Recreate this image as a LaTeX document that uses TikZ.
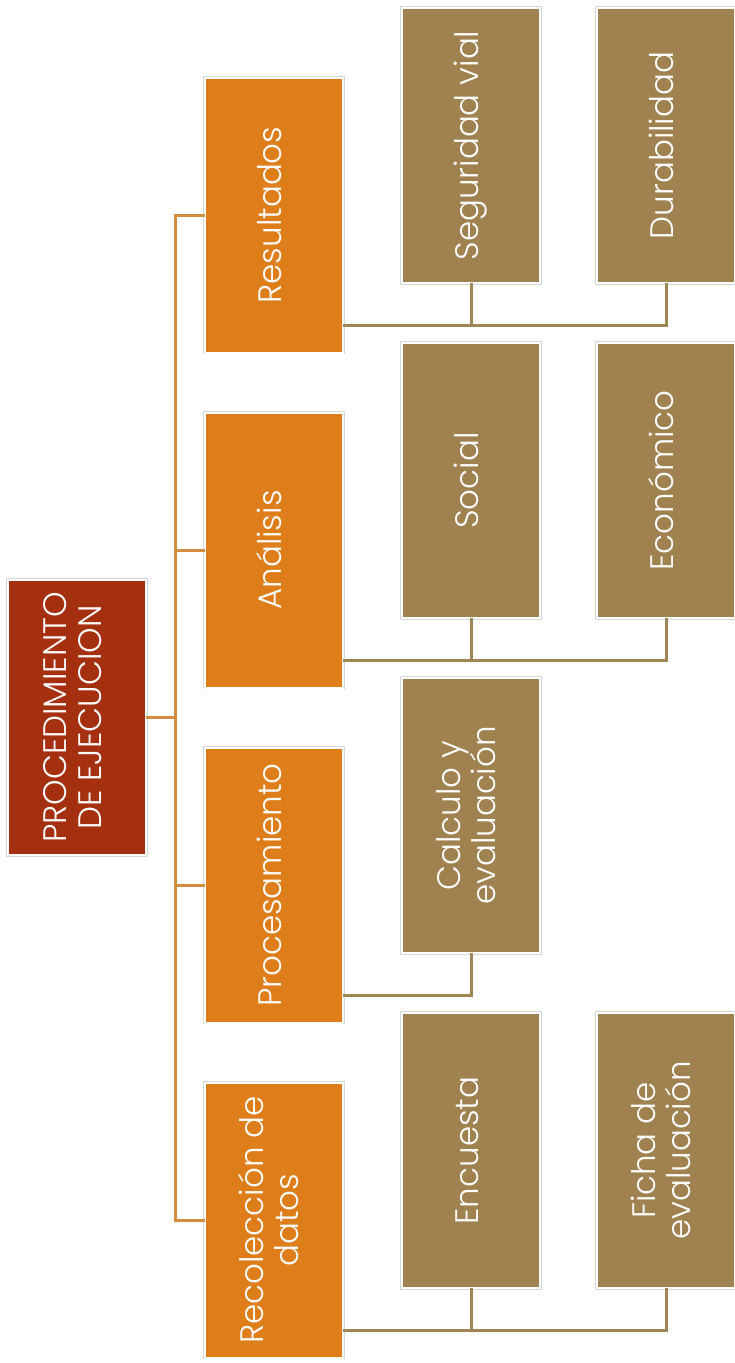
\documentclass[tikz,border=0pt]{standalone}
\usepackage{fontspec}
\setmainfont{Poppins Light}
\usepackage{graphicx}
\definecolor{rootc}{RGB}{165,48,16}
\definecolor{orangec}{RGB}{221,126,27}
\definecolor{brownc}{RGB}{160,130,80}
\definecolor{linko}{RGB}{210,140,64}
\definecolor{linkb}{RGB}{160,134,86}
\definecolor{edgec}{RGB}{215,215,215}
\newcommand{\vlabel}[1]{\rotatebox{90}{\fontsize{32.5}{35}\selectfont\begin{tabular}{@{}c@{}}#1\end{tabular}}}
\tikzset{
  box/.style={minimum width=138pt, minimum height=275pt, inner sep=0pt, outer sep=0pt,
    text=white, draw=white, line width=2pt,
    preaction={draw=edgec, line width=3.2pt}},
  rootbox/.style={box, fill=rootc},
  lvlone/.style={box, fill=orangec},
  lvltwo/.style={box, fill=brownc},
  olink/.style={draw=linko, line width=3pt},
  blink/.style={draw=linkb, line width=3pt},
}
\begin{document}
\begin{tikzpicture}[x=1pt,y=-1pt]
\useasboundingbox (0,0) rectangle (735,1363);
% root
\node[rootbox] (root) at (77,717.5) {\vlabel{PROCEDIMIENTO\\DE EJECUCION}};
% level 1
\node[lvlone] (res) at (274,215) {\vlabel{Resultados}};
\node[lvlone] (ana) at (274,550) {\vlabel{Análisis}};
\node[lvlone] (pro) at (274,885) {\vlabel{Procesamiento}};
\node[lvlone] (rec) at (274,1220) {\vlabel{Recolección de\\datos}};
% level 2
\node[lvltwo] (seg) at (471,145.5) {\vlabel{Seguridad vial}};
\node[lvltwo] (dur) at (666,145.5) {\vlabel{Durabilidad}};
\node[lvltwo] (soc) at (471,480.5) {\vlabel{Social}};
\node[lvltwo] (eco) at (666,480.5) {\vlabel{Económico}};
\node[lvltwo] (cal) at (471,815.5) {\vlabel{Calculo y\\evaluación}};
\node[lvltwo] (enc) at (471,1150.5) {\vlabel{Encuesta}};
\node[lvltwo] (fic) at (666,1150.5) {\vlabel{Ficha de\\evaluación}};
% root connectors
\coordinate (trunk) at (175,717.5);
\draw[olink] (root.east) -- (trunk);
\draw[olink] (trunk) |- (res.west);
\draw[olink] (trunk) |- (ana.west);
\draw[olink] (trunk) |- (pro.west);
\draw[olink] (trunk) |- (rec.west);
% child connectors
\coordinate (busr) at ([yshift=27pt]res.south east);
\coordinate (busa) at ([yshift=27pt]ana.south east);
\coordinate (busp) at ([yshift=27pt]pro.south east);
\coordinate (busc) at ([yshift=27pt]rec.south east);
\draw[blink] (busr) -| (seg.south);
\draw[blink] (busr) -| (dur.south);
\draw[blink] (busa) -| (soc.south);
\draw[blink] (busa) -| (eco.south);
\draw[blink] (busp) -| (cal.south);
\draw[blink] (busc) -| (enc.south);
\draw[blink] (busc) -| (fic.south);
\end{tikzpicture}
\end{document}
